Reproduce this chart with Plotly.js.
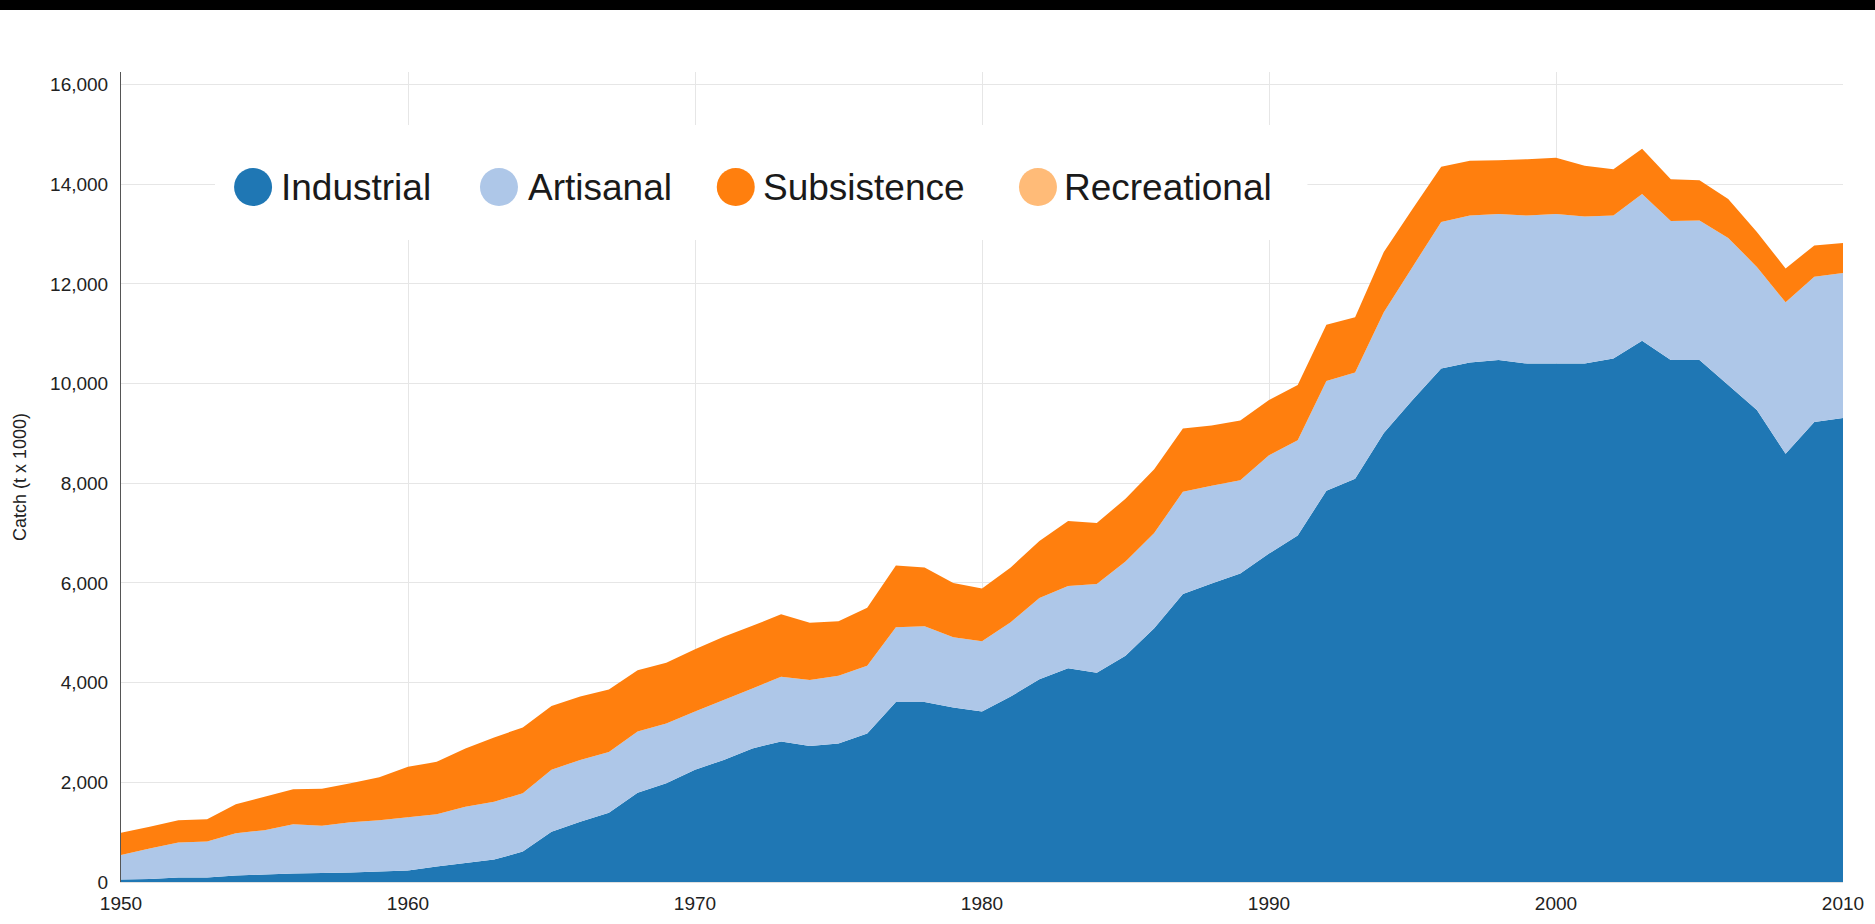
<!DOCTYPE html>
<html>
<head>
<meta charset="utf-8">
<script src="https://cdn.plot.ly/plotly-3.0.1.min.js"></script>
<style>
    body { margin: 0; background: #fff; }
    #topbar { width: 1875px; height: 10px; background: #000; }
    #chart { width: 1875px; height: 914px; }
</style>
</head>
<body>
<div id="topbar"></div>
<div id="chart"></div>
<script>
    const years = [
        1950, 1951, 1952, 1953, 1954, 1955, 1956, 1957, 1958, 1959,
        1960, 1961, 1962, 1963, 1964, 1965, 1966, 1967, 1968, 1969,
        1970, 1971, 1972, 1973, 1974, 1975, 1976, 1977, 1978, 1979,
        1980, 1981, 1982, 1983, 1984, 1985, 1986, 1987, 1988, 1989,
        1990, 1991, 1992, 1993, 1994, 1995, 1996, 1997, 1998, 1999,
        2000, 2001, 2002, 2003, 2004, 2005, 2006, 2007, 2008, 2009,
        2010
    ];

    // catch in t x 1000
    const industrial = [
        50, 60, 90, 90, 130, 150, 170, 180, 190, 210,
        230, 310, 380, 450, 610, 1010, 1210, 1390, 1790, 1980,
        2250, 2450, 2680, 2820, 2730, 2780, 2980, 3610, 3610, 3500,
        3420, 3720, 4070, 4290, 4200, 4540, 5090, 5780, 5990, 6190,
        6590, 6950, 7850, 8090, 9010, 9670, 10300, 10420, 10470, 10400,
        10400, 10400, 10500, 10860, 10470, 10470, 9970, 9470, 8590, 9230,
        9310
    ];
    const artisanal = [
        490, 610, 700, 720, 850, 890, 990, 950, 1010, 1030,
        1070, 1050, 1130, 1160, 1170, 1240, 1240, 1220, 1230, 1200,
        1170, 1200, 1200, 1300, 1320, 1360, 1360, 1500, 1520, 1410,
        1410, 1490, 1630, 1650, 1780, 1890, 1910, 2050, 1960, 1870,
        1970, 1910, 2200, 2130, 2420, 2670, 2940, 2950, 2930, 2970,
        3000, 2950, 2870, 2940, 2790, 2800, 2950, 2870, 3040, 2910,
        2910
    ];
    const subsistence = [
        450, 440, 450, 450, 580, 670, 700, 740, 780, 860,
        1010, 1050, 1170, 1290, 1320, 1280, 1270, 1250, 1230, 1220,
        1250, 1270, 1260, 1250, 1150, 1090, 1160, 1240, 1180, 1090,
        1060, 1100, 1140, 1300, 1220, 1260, 1280, 1270, 1210, 1200,
        1110, 1110, 1130, 1110, 1210, 1160, 1110, 1100, 1080, 1130,
        1130, 1020, 930, 910, 840, 810, 780, 700, 680, 630,
        600
    ];
    const recreational = [
        0, 0, 0, 0, 0, 0, 0, 0, 0, 0,
        0, 0, 0, 0, 0, 0, 0, 0, 0, 0,
        0, 0, 0, 0, 0, 0, 0, 0, 0, 0,
        0, 0, 0, 0, 0, 0, 0, 0, 0, 0,
        0, 0, 0, 0, 0, 0, 0, 0, 0, 0,
        0, 0, 0, 0, 0, 0, 0, 0, 0, 0,
        0
    ];

    const seriesNames = ["Industrial", "Artisanal", "Subsistence", "Recreational"];
    const seriesColors = ["#1f77b4", "#aec7e8", "#ff7f0e", "#ffbb78"];
    const seriesValues = [industrial, artisanal, subsistence, recreational];

    const yTicks = [0, 2000, 4000, 6000, 8000, 10000, 12000, 14000, 16000];
    const xTicks = [1950, 1960, 1970, 1980, 1990, 2000, 2010];

    const traces = seriesNames.map((name, i) => ({
        x: years,
        y: seriesValues[i],
        name,
        type: "scatter",
        mode: "none",
        stackgroup: "catch",
        fillcolor: seriesColors[i],
        showlegend: false,
        hoverinfo: "skip"
    }));

    // big round-dot legend, drawn by hand (plotly caps legend symbol size)
    const legendY = 0.858;
    const dotX = [0.0767, 0.2195, 0.357, 0.5325];
    const labelX = [0.0918, 0.2352, 0.3717, 0.5465];

    const shapes = [{
        type: "rect", xref: "paper", yref: "paper",
        x0: 0.0546, x1: 0.689, y0: 0.7926, y1: 0.9346,
        fillcolor: "#ffffff", line: { width: 0 }, layer: "above"
    }];
    seriesNames.forEach((name, i) => {
        shapes.push({
            type: "circle", xref: "paper", yref: "paper",
            xsizemode: "pixel", ysizemode: "pixel",
            xanchor: dotX[i], yanchor: legendY,
            x0: -19, x1: 19, y0: -19, y1: 19,
            fillcolor: seriesColors[i], line: { width: 0 }, layer: "above"
        });
    });

    const annotations = seriesNames.map((name, i) => ({
        text: name,
        xref: "paper", yref: "paper",
        x: labelX[i], y: legendY,
        xanchor: "left", yanchor: "middle",
        showarrow: false,
        font: { family: "Liberation Sans, Arial, sans-serif", size: 37, color: "#1a1a1a" }
    }));

    const layout = {
        width: 1875,
        height: 914,
        margin: { l: 121, r: 32, t: 62, b: 42 },
        paper_bgcolor: "#ffffff",
        plot_bgcolor: "#ffffff",
        font: { family: "Liberation Sans, Arial, sans-serif", color: "#222222" },
        showlegend: false,
        hovermode: false,
        xaxis: {
            range: [1950, 2010],
            tickvals: xTicks,
            ticks: "",
            ticklabelstandoff: 4,
            showgrid: true,
            gridcolor: "#e6e6e6",
            zeroline: false,
            showline: true,
            linecolor: "#e0e0e0",
            tickfont: { size: 19, color: "#222222" },
            fixedrange: true
        },
        yaxis: {
            range: [0, 16250],
            tickvals: yTicks,
            tickformat: ",d",
            ticks: "",
            ticklabelstandoff: 8,
            showgrid: true,
            gridcolor: "#e6e6e6",
            zeroline: false,
            showline: true,
            linecolor: "#555555",
            linewidth: 1,
            tickfont: { size: 19, color: "#222222" },
            title: {
                text: "Catch (t x 1000)",
                standoff: 18,
                font: { size: 18, color: "#222222" }
            },
            fixedrange: true
        },
        shapes,
        annotations
    };

    Plotly.newPlot("chart", traces, layout, { displayModeBar: false, staticPlot: true });
</script>
</body>
</html>
